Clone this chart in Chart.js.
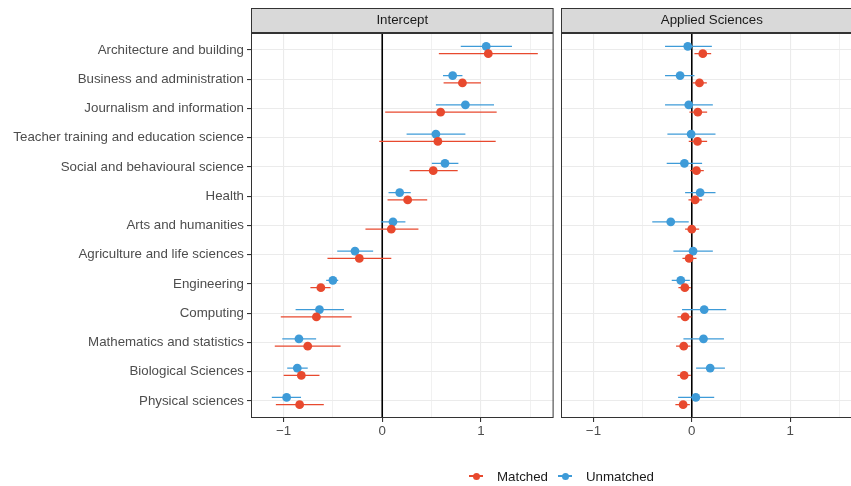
<!DOCTYPE html>
<html lang="en">
<head>
    <meta charset="UTF-8">
    <title>Intercept and Applied Sciences</title>
    <script src="https://cdn.jsdelivr.net/npm/chart.js"></script>
    <style>
        html, body { margin: 0; padding: 0; background: #fff; }
        body { width: 851px; height: 486px; position: relative; overflow: hidden; font-family: "Liberation Sans", Arial, sans-serif; }
        #left { position: absolute; left: 0; top: 0; }
        #right { position: absolute; left: 556px; top: 0; }
        .legend { position: absolute; left: 469px; top: 468px; height: 16px; display: flex; align-items: center; font-size: 13.3px; color: #1a1a1a; }
        .legend .item { display: flex; align-items: center; margin-right: 10px; }
        .legend .mark { position: relative; width: 14px; height: 14px; margin-right: 14px; }
        .legend .mark .ln { position: absolute; left: 0; right: 0; top: 6.3px; height: 1.5px; }
        .legend .mark .dot { position: absolute; left: 3.5px; top: 3.5px; width: 7px; height: 7px; border-radius: 50%; }
    </style>
</head>
<body>
    <canvas id="left" width="558" height="486"></canvas>
    <canvas id="right" width="311" height="486"></canvas>
    <div class="legend">
        <div class="item"><span class="mark"><span class="ln" style="background:#E8492E"></span><span class="dot" style="background:#E8492E"></span></span>Matched</div>
        <div class="item"><span class="mark"><span class="ln" style="background:#3E9BD8"></span><span class="dot" style="background:#3E9BD8"></span></span>Unmatched</div>
    </div>
    <script>
        const categories = [
            'Architecture and building', 'Business and administration', 'Journalism and information',
            'Teacher training and education science', 'Social and behavioural science', 'Health',
            'Arts and humanities', 'Agriculture and life sciences', 'Engineering', 'Computing',
            'Mathematics and statistics', 'Biological Sciences', 'Physical sciences'
        ];

        // Intercept panel
        const interceptMatched   = [1.075, 0.813, 0.592, 0.564, 0.517, 0.258, 0.092, -0.232, -0.622, -0.667, -0.755, -0.820, -0.837];
        const interceptMatchedLo = [0.574, 0.622, 0.030, -0.030, 0.279, 0.054, -0.170, -0.555, -0.728, -1.028, -1.089, -0.999, -1.078];
        const interceptMatchedHi = [1.577, 1.000, 1.160, 1.150, 0.765, 0.456, 0.367, 0.092, -0.524, -0.310, -0.422, -0.636, -0.592];
        const interceptUnmatched   = [1.054, 0.714, 0.843, 0.544, 0.636, 0.177, 0.109, -0.276, -0.500, -0.636, -0.844, -0.861, -0.969];
        const interceptUnmatchedLo = [0.796, 0.616, 0.544, 0.247, 0.503, 0.064, -0.014, -0.456, -0.568, -0.878, -1.013, -0.963, -1.119];
        const interceptUnmatchedHi = [1.315, 0.813, 1.133, 0.843, 0.772, 0.289, 0.235, -0.092, -0.446, -0.388, -0.670, -0.755, -0.823];

        // Applied Sciences panel
        const appliedMatched   = [0.112, 0.078, 0.061, 0.058, 0.048, 0.034, 0.000, -0.027, -0.071, -0.068, -0.082, -0.078, -0.088];
        const appliedMatchedLo = [0.027, 0.010, -0.024, -0.031, -0.017, -0.034, -0.068, -0.095, -0.136, -0.146, -0.160, -0.146, -0.167];
        const appliedMatchedHi = [0.197, 0.153, 0.156, 0.156, 0.122, 0.105, 0.075, 0.048, -0.010, -0.003, -0.014, -0.010, -0.020];
        const appliedUnmatched   = [-0.041, -0.119, -0.031, -0.007, -0.075, 0.085, -0.214, 0.013, -0.112, 0.126, 0.119, 0.187, 0.041];
        const appliedUnmatchedLo = [-0.272, -0.272, -0.272, -0.248, -0.255, -0.068, -0.402, -0.187, -0.204, -0.099, -0.085, 0.044, -0.139];
        const appliedUnmatchedHi = [0.204, 0.027, 0.214, 0.241, 0.105, 0.241, -0.031, 0.214, -0.020, 0.350, 0.327, 0.337, 0.228];

        const xTicks = [-1, 0, 1];

        const RED = '#E8492E';
        const BLUE = '#3E9BD8';
        const GRID = '#EBEBEB';
        const TEXT = '#4D4D4D';
        const FONT = '"Liberation Sans", Arial, sans-serif';

        // error bars, zero line, panel border and facet strip
        const panelPlugin = {
            id: 'panel',
            beforeDatasetsDraw(chart) {
                const ctx = chart.ctx, a = chart.chartArea;
                const xs = chart.scales.x, ys = chart.scales.y;
                ctx.save();
                ctx.beginPath();
                ctx.rect(a.left, a.top, a.right - a.left, a.bottom - a.top);
                ctx.clip();
                // vertical line at 0
                const x0 = xs.getPixelForValue(0);
                ctx.strokeStyle = '#000';
                ctx.lineWidth = 1.6;
                ctx.beginPath();
                ctx.moveTo(x0, a.top);
                ctx.lineTo(x0, a.bottom);
                ctx.stroke();
                // confidence intervals
                chart.data.datasets.slice().reverse().forEach(ds => {
                    ctx.strokeStyle = ds.borderColor;
                    ctx.lineWidth = 1.3;
                    ds.data.forEach((p, i) => {
                        const y = ys.getPixelForValue(p.y);
                        ctx.beginPath();
                        ctx.moveTo(xs.getPixelForValue(ds.lo[i]), y);
                        ctx.lineTo(xs.getPixelForValue(ds.hi[i]), y);
                        ctx.stroke();
                    });
                });
                ctx.restore();
            },
            afterDraw(chart, args, opts) {
                const ctx = chart.ctx, a = chart.chartArea;
                ctx.save();
                ctx.strokeStyle = '#333';
                ctx.lineWidth = 1;
                ctx.strokeRect(a.left + 0.5, a.top + 0.5, a.right - a.left - 1, a.bottom - a.top - 1);
                // strip
                ctx.fillStyle = '#D9D9D9';
                ctx.fillRect(a.left + 0.5, a.top - 24.5, a.right - a.left - 1, 24);
                ctx.strokeRect(a.left + 0.5, a.top - 24.5, a.right - a.left - 1, 24);
                ctx.fillStyle = '#1A1A1A';
                ctx.font = '13.3px ' + FONT;
                ctx.textAlign = 'center';
                ctx.textBaseline = 'middle';
                ctx.fillText(opts.title, (a.left + a.right) / 2, a.top - 12.5);
                ctx.restore();
            }
        };

        function makePanel(id, title, m, mLo, mHi, u, uLo, uHi, showY, leftPad) {
            const ctx = document.getElementById(id).getContext('2d');
            return new Chart(ctx, {
                type: 'scatter',
                data: {
                    datasets: [
                        {
                            label: 'Matched',
                            data: m.map((v, i) => ({ x: v, y: i + 1 + 0.125 })),
                            lo: mLo, hi: mHi,
                            backgroundColor: RED, borderColor: RED,
                            pointRadius: 4.4, pointBorderWidth: 0
                        },
                        {
                            label: 'Unmatched',
                            data: u.map((v, i) => ({ x: v, y: i + 1 - 0.125 })),
                            lo: uLo, hi: uHi,
                            backgroundColor: BLUE, borderColor: BLUE,
                            pointRadius: 4.4, pointBorderWidth: 0
                        }
                    ]
                },
                options: {
                    responsive: false,
                    animation: false,
                    layout: { padding: { top: 33, left: leftPad, right: 0, bottom: 0 } },
                    plugins: {
                        legend: { display: false },
                        tooltip: { enabled: false },
                        panel: { title: title }
                    },
                    scales: {
                        x: {
                            type: 'linear',
                            min: -1.33, max: 1.737,
                            afterFit: s => { s.height = 68; },
                            afterBuildTicks: s => { s.ticks = [-1, -0.5, 0, 0.5, 1, 1.5].map(v => ({ value: v })); },
                            ticks: {
                                color: TEXT,
                                font: { family: FONT, size: 13.3 },
                                padding: 1,
                                maxRotation: 0,
                                callback: v => xTicks.includes(v) ? (v < 0 ? '\u2212' + Math.abs(v) : String(v)) : ''
                            },
                            grid: {
                                color: GRID,
                                lineWidth: ctx => xTicks.includes(ctx.tick && ctx.tick.value) ? 1.1 : 0.7,
                                tickLength: 4,
                                tickColor: ctx => xTicks.includes(ctx.tick && ctx.tick.value) ? '#333' : 'rgba(0,0,0,0)'
                            },
                            border: { display: false }
                        },
                        y: {
                            type: 'linear',
                            reverse: true,
                            min: 0.42, max: 13.58,
                            afterFit: s => { s.width = showY ? 251 : 0; },
                            afterBuildTicks: s => { s.ticks = categories.map((c, i) => ({ value: i + 1 })); },
                            ticks: {
                                display: showY,
                                color: TEXT,
                                font: { family: FONT, size: 13.3 },
                                padding: 3,
                                callback: v => categories[v - 1]
                            },
                            grid: {
                                color: GRID,
                                lineWidth: 1.1,
                                drawTicks: showY,
                                tickLength: 4,
                                tickColor: '#333'
                            },
                            border: { display: false }
                        }
                    }
                },
                plugins: [panelPlugin]
            });
        }

        makePanel('left', 'Intercept', interceptMatched, interceptMatchedLo, interceptMatchedHi,
            interceptUnmatched, interceptUnmatchedLo, interceptUnmatchedHi, true, 0);
        makePanel('right', 'Applied Sciences', appliedMatched, appliedMatchedLo, appliedMatchedHi,
            appliedUnmatched, appliedUnmatchedLo, appliedUnmatchedHi, false, 5);
    </script>
</body>
</html>
